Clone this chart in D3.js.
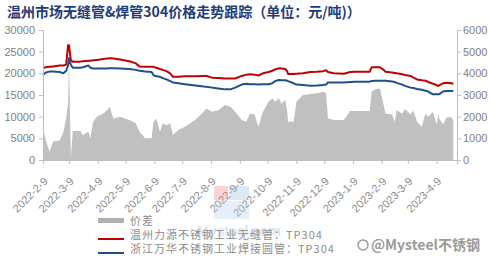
<!DOCTYPE html>
<html>
<head>
<meta charset="utf-8">
<script src="https://cdn.jsdelivr.net/npm/d3@7"></script>
<style>
	body { margin: 0; background: #fff; }
	svg { display: block; font-family: "Liberation Sans", Arial, sans-serif; }
</style>
</head>
<body>
<div id="chart"></div>
<script>
// data
var dates = [
	"2022-02-09", "2022-02-12", "2022-02-16", "2022-02-20", "2022-02-27", "2022-03-03", "2022-03-06", "2022-03-08",
	"2022-03-09", "2022-03-11", "2022-03-13", "2022-03-21", "2022-03-24", "2022-03-30", "2022-04-01", "2022-04-04",
	"2022-04-08", "2022-04-15", "2022-04-19", "2022-04-22", "2022-04-24", "2022-04-26", "2022-05-03", "2022-05-13",
	"2022-05-20", "2022-05-24", "2022-05-30", "2022-06-06", "2022-06-08", "2022-06-11", "2022-06-15", "2022-06-18",
	"2022-06-22", "2022-06-26", "2022-06-29", "2022-07-05", "2022-07-12", "2022-07-23", "2022-08-01", "2022-08-04",
	"2022-08-10", "2022-08-17", "2022-08-24", "2022-08-30", "2022-09-04", "2022-09-11", "2022-09-16", "2022-09-20",
	"2022-09-25", "2022-09-29", "2022-10-04", "2022-10-10", "2022-10-14", "2022-10-17", "2022-10-21", "2022-10-24",
	"2022-10-28", "2022-10-30", "2022-10-31", "2022-11-06", "2022-11-09", "2022-11-16", "2022-11-24", "2022-12-01",
	"2022-12-08", "2022-12-11", "2022-12-13", "2022-12-19", "2022-12-30", "2023-01-06", "2023-01-11", "2023-01-27",
	"2023-01-29", "2023-02-02", "2023-02-07", "2023-02-11", "2023-02-13", "2023-02-20", "2023-02-23", "2023-02-25",
	"2023-03-03", "2023-03-06", "2023-03-12", "2023-03-15", "2023-03-19", "2023-03-24", "2023-03-28", "2023-03-31",
	"2023-04-05", "2023-04-09", "2023-04-11", "2023-04-12", "2023-04-16", "2023-04-20", "2023-04-25", "2023-04-27"
];

// 温州力源不锈钢工业无缝管 TP304 (left axis)
var seamless = [
	21300, 21400, 21500, 21600, 21800, 21800, 22000, 26500,
	26500, 23000, 22700, 22700, 22800, 22900, 22900, 23000,
	23100, 23300, 23400, 23500, 23500, 23400, 23200, 22800,
	22300, 21600, 21540, 21500, 21500, 21300, 21000, 20800,
	20500, 20000, 19200, 19200, 19300, 19350, 19400, 19400,
	19000, 18900, 18800, 18800, 18800, 19400, 19700, 19770,
	19700, 19500, 20000, 20300, 20600, 20900, 21150, 21100,
	21000, 20500, 19850, 19850, 19900, 20000, 20300, 20380,
	20500, 20700, 20300, 20000, 19900, 20300, 20380, 20380,
	21380, 21380, 21400, 20800, 20380, 20200, 20100, 20000,
	19800, 19600, 19400, 19000, 18600, 18400, 18300, 18000,
	17600, 17300, 17080, 17300, 17700, 17800, 17700, 17540
];

// 浙江万华不锈钢工业焊接圆管 TP304 (left axis)
var welded = [
	19600, 20200, 20400, 20400, 20300, 20000, 20600, 21800,
	23500, 22000, 21300, 21300, 21400, 21800, 21300, 21100,
	21100, 21100, 21100, 21200, 21200, 21200, 21100, 21000,
	20800, 20600, 20400, 20300, 19600, 19300, 19200, 18900,
	18600, 18200, 17900, 17700, 17500, 17200, 16950, 16900,
	16700, 16500, 16300, 16300, 16700, 17400, 17600, 17500,
	17500, 17450, 17500, 17500, 17700, 18200, 18460, 18400,
	18400, 18300, 18200, 17700, 17400, 17300, 17150, 17200,
	17300, 17400, 17900, 17900, 17900, 18000, 18080, 18080,
	18250, 18300, 18300, 18300, 18300, 18100, 18000, 17800,
	17400, 17100, 16700, 16600, 16400, 16200, 16000, 15800,
	15160, 15160, 15160, 15200, 15800, 15900, 15900, 15920
];

// 价差 (right axis)
var spread = [
	1460, 920, 380, 850, 900, 1300, 1940, 2630,
	4540, 90, 1340, 1340, 1150, 1300, 1000, 1770,
	2000, 2150, 2300, 2460, 2150, 1900, 2000, 1850,
	1700, 1300, 1000, 1000, 1770, 1920, 1300, 1700,
	1600, 1700, 1150, 1400, 1540, 1850, 2230, 2380,
	2230, 2300, 2540, 2460, 2230, 1850, 1770, 2150,
	2100, 1540, 2230, 2690, 2850, 2690, 2850, 2600,
	2770, 2300, 1770, 1770, 2690, 3000, 3050, 3080,
	3150, 3080, 1920, 1850, 1850, 2260, 2260, 2260,
	3150, 3260, 3300, 2540, 2150, 2100, 1770, 2300,
	2150, 2350, 2100, 2300, 1770, 1540, 2150, 2000,
	2230, 1650, 2100, 1900, 1650, 1970, 1970, 1850
];

var xTicks = [
	"2022-2-9", "2022-3-9", "2022-4-9", "2022-5-9", "2022-6-9", "2022-7-9", "2022-8-9", "2022-9-9",
	"2022-10-9", "2022-11-9", "2022-12-9", "2023-1-9", "2023-2-9", "2023-3-9", "2023-4-9"
];
var leftTicks = [0, 5000, 10000, 15000, 20000, 25000, 30000];
var rightTicks = [0, 1000, 2000, 3000, 4000, 5000, 6000];

var title = "温州市场无缝管&焊管304价格走势跟踪（单位：元/吨)）";
var legendNames = ["价差", "温州力源不锈钢工业无缝管：TP304", "浙江万华不锈钢工业焊接圆管：TP304"];

var width = 492, height = 265;
var plot = { left: 43, right: 457, top: 30, bottom: 160 };

var parse = d3.timeParse("%Y-%m-%d");
var tickParse = d3.timeParse("%Y-%-m-%-d");
var rows = dates.map(function (d, i) {
	return { date: parse(d), a: seamless[i], b: welded[i], s: spread[i] };
});

var x = d3.scaleTime()
	.domain([parse("2022-02-09"), parse("2023-05-01")])
	.range([plot.left, plot.right]);
var yLeft = d3.scaleLinear().domain([0, 30000]).range([plot.bottom, plot.top]);
var yRight = d3.scaleLinear().domain([0, 6000]).range([plot.bottom, plot.top]);

var svg = d3.select("#chart").append("svg")
	.attr("width", width)
	.attr("height", height);

// title
svg.append("text")
	.attr("x", 7)
	.attr("y", 17)
	.attr("fill", "#1f3c7a")
	.attr("font-family", "'Noto Sans CJK SC', sans-serif")
	.attr("font-weight", "bold")
	.attr("font-size", 14)
	.text(title);

// spread area
svg.append("path")
	.datum(rows)
	.attr("fill", "#c0c0c0")
	.attr("d", d3.area()
		.x(function (d) { return x(d.date); })
		.y0(yRight(0))
		.y1(function (d) { return yRight(d.s); }));

// price lines
[["a", "#c00000"], ["b", "#1f4e8c"]].forEach(function (s) {
	svg.append("path")
		.datum(rows)
		.attr("fill", "none")
		.attr("stroke", s[1])
		.attr("stroke-width", 2)
		.attr("stroke-linejoin", "round")
		.attr("d", d3.line()
			.x(function (d) { return x(d.date); })
			.y(function (d) { return yLeft(d[s[0]]); }));
});

// axes
var axisColor = "#bfbfbf", labelColor = "#7f7f7f";

var gl = svg.append("g")
	.attr("transform", "translate(" + plot.left + ",0)")
	.call(d3.axisLeft(yLeft).tickValues(leftTicks).tickSize(4).tickPadding(4).tickFormat(d3.format("d")));
var gr = svg.append("g")
	.attr("transform", "translate(" + plot.right + ",0)")
	.call(d3.axisRight(yRight).tickValues(rightTicks).tickSize(4).tickPadding(2).tickFormat(d3.format("d")));
var gx = svg.append("g")
	.attr("transform", "translate(0," + plot.bottom + ")")
	.call(d3.axisBottom(x)
		.tickValues(xTicks.map(function (t) { return tickParse(t); }))
		.tickSize(4)
		.tickFormat(function (d, i) { return xTicks[i]; }));

[gl, gr, gx].forEach(function (g) {
	g.select(".domain").attr("stroke", axisColor);
	g.selectAll(".tick line").attr("stroke", axisColor);
	g.selectAll("text")
		.attr("fill", labelColor)
		.attr("font-size", 11)
		.attr("font-family", "'Liberation Sans', Arial, sans-serif");
});

gx.selectAll("text")
	.attr("text-anchor", "end")
	.attr("dy", 0)
	.attr("y", 0)
	.attr("fill", "#8c8c8c")
	.attr("transform", "translate(5,22) rotate(-45)");

// watermark in the middle
var wm = svg.append("g").attr("opacity", 0.35);
wm.append("rect").attr("x", 214).attr("y", 186).attr("width", 14).attr("height", 14).attr("fill", "#e58a8a");
wm.append("rect").attr("x", 229).attr("y", 186).attr("width", 20).attr("height", 14).attr("fill", "#9dbfe0");
wm.append("rect").attr("x", 214).attr("y", 201).attr("width", 35).attr("height", 18).attr("fill", "#b9d3ea");
wm.append("text")
	.attr("x", 197).attr("y", 236)
	.attr("fill", "#9fb6cc")
	.attr("font-size", 14)
	.attr("font-weight", "bold")
	.text("Mysteel.com");

// legend
var lg = svg.append("g").attr("font-family", "'Noto Sans CJK SC', sans-serif");
lg.append("rect").attr("x", 98).attr("y", 218).attr("width", 26).attr("height", 5).attr("fill", "#b0b0b0");
lg.append("line").attr("x1", 98).attr("x2", 124).attr("y1", 239).attr("y2", 239).attr("stroke", "#c00000").attr("stroke-width", 2);
lg.append("line").attr("x1", 98).attr("x2", 124).attr("y1", 253).attr("y2", 253).attr("stroke", "#1f4e8c").attr("stroke-width", 2);
legendNames.forEach(function (name, i) {
	lg.append("text")
		.attr("x", 130)
		.attr("y", 225 + i * 14)
		.attr("fill", "#8c8c8c")
		.attr("font-size", 11)
		.attr("letter-spacing", 1)
		.text(name);
});

// weibo watermark
var wb = svg.append("g").attr("fill", "#9a9a9a");
wb.append("circle").attr("cx", 363).attr("cy", 245).attr("r", 5).attr("fill", "none").attr("stroke", "#9a9a9a").attr("stroke-width", 1.5);
wb.append("text")
	.attr("x", 371).attr("y", 250)
	.attr("font-family", "'Noto Sans CJK SC', sans-serif")
	.attr("font-size", 14)
	.attr("font-weight", "bold")
	.text("@Mysteel不锈钢");
</script>
</body>
</html>
